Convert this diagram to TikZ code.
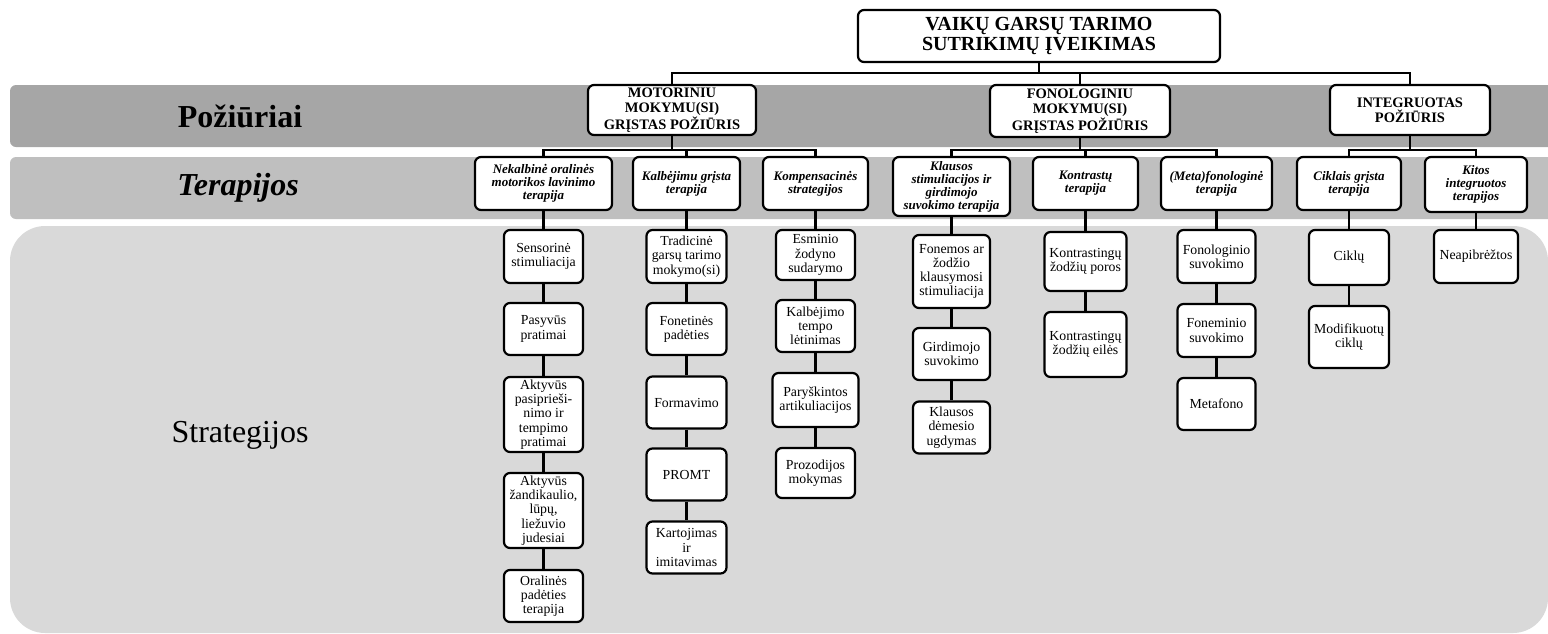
\documentclass[tikz,border=0pt]{standalone}
\usepackage{fontspec}
\setmainfont{Liberation Serif}
\usepackage{xcolor}
\usetikzlibrary{calc}

\definecolor{bandA}{HTML}{A6A6A6}
\definecolor{bandB}{HTML}{BFBFBF}
\definecolor{bandC}{HTML}{D9D9D9}

\begin{document}
\begin{tikzpicture}[x=1pt,y=-1pt,
  box/.style={draw,line width=2.2pt,rounded corners=6pt,fill=white,align=center,inner sep=1pt},
  head/.style={box,font=\fontsize{14.5}{15}\selectfont\bfseries},
  ther/.style={box,font=\fontsize{13}{13}\selectfont\bfseries\itshape,minimum height=53pt},
  strat/.style={box,font=\fontsize{13.8}{14.2}\selectfont,minimum width=79pt,minimum height=52pt},
  link/.style={line width=2.4pt},
  lbl/.style={font=\fontsize{32}{34}\selectfont}]
\useasboundingbox (0,0) rectangle (1548,633);
\clip (0,0) rectangle (1548,633);

% bands
\fill[bandA,rounded corners=6pt] (10,85) rectangle (1570,147);
\fill[bandB,rounded corners=6pt] (10,157) rectangle (1570,219);
\fill[bandC,rounded corners=35pt] (10,226) rectangle (1548,633);

\node[lbl,font=\fontsize{32}{34}\selectfont\bfseries] (lpoz) at (240,116) {Požiūriai};
\node[lbl,font=\fontsize{32}{34}\selectfont\bfseries\itshape] (lter) at (238,188) {Terapijos};
\node[lbl] (lstr) at (240,435) {Strategijos};

% root
\node[box,font=\fontsize{20}{20}\selectfont\bfseries,minimum width=362pt,minimum height=52pt] (title) at (1039,36) {VAIKŲ GARSŲ TARIMO\\SUTRIKIMŲ ĮVEIKIMAS};

% approaches
\node[head,minimum width=168pt,minimum height=50pt] (motor) at (672,110) {MOTORINIU\\MOKYMU(SI)\\GRĮSTAS POŽIŪRIS};
\node[head,minimum width=180pt,minimum height=52pt] (fono) at (1080,111) {FONOLOGINIU\\MOKYMU(SI)\\GRĮSTAS POŽIŪRIS};
\node[head,minimum width=160pt,minimum height=50pt] (integ) at (1410,110) {INTEGRUOTAS\\POŽIŪRIS};

% therapies
\node[ther,minimum width=137pt] (nekalb) at (543.5,183.5) {Nekalbinė oralinės\\motorikos lavinimo\\terapija};
\node[ther,minimum width=107pt] (kalb) at (686.5,183.5) {Kalbėjimu grįsta\\terapija};
\node[ther,minimum width=105pt] (komp) at (815.5,183.5) {Kompensacinės\\strategijos};
\node[ther,minimum width=117pt,minimum height=59pt] (klaus) at (951.5,186.5) {Klausos\\stimuliacijos ir\\girdimojo\\suvokimo terapija};
\node[ther,minimum width=105pt] (kontr) at (1085.5,183.5) {Kontrastų\\terapija};
\node[ther,minimum width=111pt] (meta) at (1216.5,183.5) {(Meta)fonologinė\\terapija};
\node[ther,minimum width=104pt] (cikl) at (1349,183.5) {Ciklais grįsta\\terapija};
\node[ther,minimum width=102pt,minimum height=55pt] (kitos) at (1476,184.5) {Kitos\\integruotos\\terapijos};

% strategies
\node[strat,minimum height=53pt] (sens) at (543.5,256.5) {Sensorinė\\stimuliacija};
\node[strat] (pasyv) at (543.5,329) {Pasyvūs\\pratimai};
\node[strat,minimum height=75pt] (aktyv) at (543.5,414.5) {Aktyvūs\\pasiprieši-\\nimo ir\\tempimo\\pratimai};
\node[strat,minimum height=75pt] (zand) at (543.5,510.5) {Aktyvūs\\žandikaulio,\\lūpų,\\liežuvio\\judesiai};
\node[strat] (oral) at (543.5,596) {Oralinės\\padėties\\terapija};

\node[strat,minimum width=80pt,minimum height=53pt] (trad) at (686.5,256.5) {Tradicinė\\garsų tarimo\\mokymo(si)};
\node[strat,minimum width=80pt] (fonet) at (686.5,329) {Fonetinės\\padėties};
\node[strat,minimum width=80pt] (form) at (686.5,402.5) {Formavimo};
\node[strat,minimum width=80pt] (promt) at (686.5,474.5) {PROMT};
\node[strat,minimum width=80pt] (kart) at (686.5,547.5) {Kartojimas\\ir\\imitavimas};

\node[strat,minimum height=50pt] (esmin) at (815.5,255) {Esminio\\žodyno\\sudarymo};
\node[strat] (tempo) at (815.5,326) {Kalbėjimo\\tempo\\lėtinimas};
\node[strat,minimum width=86pt,minimum height=54pt] (parys) at (815.5,400) {Paryškintos\\artikuliacijos};
\node[strat,minimum height=50pt] (prozod) at (815.5,473) {Prozodijos\\mokymas};

\node[strat,minimum width=77pt,minimum height=73pt] (fonem) at (951.5,271.5) {Fonemos ar\\žodžio\\klausymosi\\stimuliacija};
\node[strat,minimum width=77pt] (girdim) at (951.5,354) {Girdimojo\\suvokimo};
\node[strat,minimum width=77pt] (demes) at (951.5,427.5) {Klausos\\dėmesio\\ugdymas};

\node[strat,minimum width=82pt,minimum height=59pt] (kporos) at (1085.5,261.5) {Kontrastingų\\žodžių poros};
\node[strat,minimum width=82pt,minimum height=65pt] (keiles) at (1085.5,344.5) {Kontrastingų\\žodžių eilės};

\node[strat,minimum width=78pt,minimum height=53pt] (fonsuv) at (1216.5,256.5) {Fonologinio\\suvokimo};
\node[strat,minimum width=78pt,minimum height=53pt] (femsuv) at (1216.5,330.5) {Foneminio\\suvokimo};
\node[strat,minimum width=78pt] (metaf) at (1216.5,404) {Metafono};

\node[strat,minimum width=80pt,minimum height=55pt] (ciklu) at (1349,257.5) {Ciklų};
\node[strat,minimum width=80pt,minimum height=62pt] (modif) at (1349,337) {Modifikuotų\\ciklų};

\node[strat,minimum width=84pt,minimum height=53pt] (neap) at (1476,256.5) {Neapibrėžtos};

% tree links
\draw[link] (title.south) -- ++(0,10) -| (motor.north);
\draw[link] (title.south) -- ++(0,10) -| (fono.north);
\draw[link] (title.south) -- ++(0,10) -| (integ.north);

\draw[link] (motor.south) -- ++(0,14) -| (nekalb.north);
\draw[link] (motor.south) -- ++(0,14) -| (kalb.north);
\draw[link] (motor.south) -- ++(0,14) -| (komp.north);
\draw[link] (fono.south) -- ++(0,12) -| (klaus.north);
\draw[link] (fono.south) -- ++(0,12) -| (kontr.north);
\draw[link] (fono.south) -- ++(0,12) -| (meta.north);
\draw[link] (integ.south) -- ++(0,14) -| (cikl.north);
\draw[link] (integ.south) -- ++(0,14) -| (kitos.north);

% columns
\draw[link] (nekalb) -- (sens);
\draw[link] (sens) -- (pasyv);
\draw[link] (pasyv) -- (aktyv);
\draw[link] (aktyv) -- (zand);
\draw[link] (zand) -- (oral);

\draw[link] (kalb) -- (trad);
\draw[link] (trad) -- (fonet);
\draw[link] (fonet) -- (form);
\draw[link] (form) -- (promt);
\draw[link] (promt) -- (kart);

\draw[link] (komp) -- (esmin);
\draw[link] (esmin) -- (tempo);
\draw[link] (tempo) -- (parys);
\draw[link] (parys) -- (prozod);

\draw[link] (klaus) -- (fonem);
\draw[link] (fonem) -- (girdim);
\draw[link] (girdim) -- (demes);

\draw[link] (kontr) -- (kporos);
\draw[link] (kporos) -- (keiles);

\draw[link] (meta) -- (fonsuv);
\draw[link] (fonsuv) -- (femsuv);
\draw[link] (femsuv) -- (metaf);

\draw[link] (cikl) -- (ciklu);
\draw[link] (ciklu) -- (modif);

\draw[link] (kitos) -- (neap);
\end{tikzpicture}
\end{document}
